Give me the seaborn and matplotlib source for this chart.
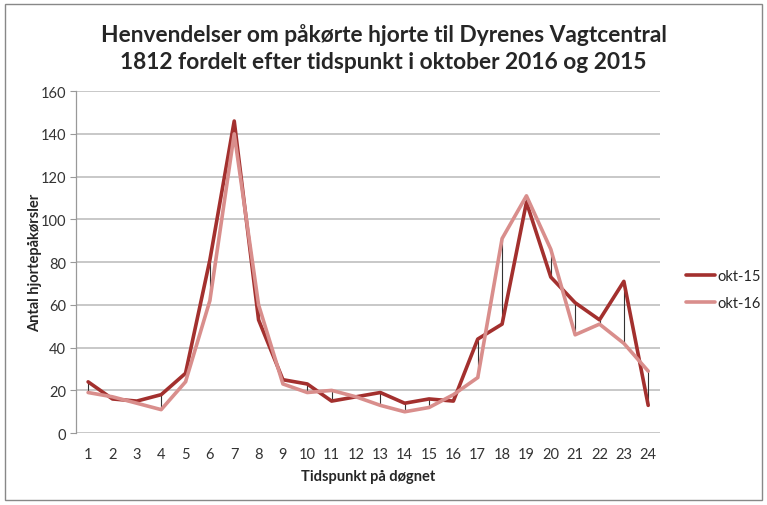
import matplotlib
matplotlib.use("Agg")
import matplotlib.pyplot as plt
import seaborn as sns
import pandas as pd
import numpy as np
from matplotlib.lines import Line2D

hours = list(range(1, 25))
okt15 = [24, 16, 15, 18, 28, 81, 146, 53, 25, 23, 15, 17, 19, 14, 16, 15, 44, 51, 108, 73, 61, 53, 71, 13]
okt16 = [19, 17, 14, 11, 24, 62, 140, 60, 23, 19, 20, 17, 13, 10, 12, 18, 26, 91, 111, 86, 46, 51, 42, 29]
series_names = ["okt-15", "okt-16"]
colors = ["#A3302E", "#D98E8C"]

df = pd.DataFrame({
    "hour": hours * 2,
    "value": okt15 + okt16,
    "series": [series_names[0]] * 24 + [series_names[1]] * 24,
})

sns.set_theme(style="white")
plt.rcParams['font.family'] = ['Lato', 'DejaVu Sans']

fig = plt.figure(figsize=(7.67, 5.06), dpi=100)
ax = fig.add_axes([0.099, 0.142, 0.762, 0.676])

# high-low lines
ax.vlines(hours, np.minimum(okt15, okt16), np.maximum(okt15, okt16),
          color="#333333", linewidth=0.8, zorder=2)

sns.lineplot(data=df, x="hour", y="value", hue="series", palette=colors,
             linewidth=2.6, ax=ax, legend=False, zorder=3)

ax.set_xlim(0.5, 24.5)
ax.set_ylim(0, 160)
ax.set_yticks(range(0, 161, 20))
ax.set_xticks(hours)
ax.tick_params(axis="both", labelsize=10.5, colors="#333333")
ax.tick_params(axis="y", length=4, width=0.8, color="#999999", left=True, direction="out", pad=3)
ax.tick_params(axis="x", length=0, pad=10)
ax.yaxis.grid(True, color="#BFBFBF", linewidth=1.2)
ax.set_axisbelow(True)
for s in ["top", "right", "bottom"]:
    ax.spines[s].set_visible(False)
ax.spines["left"].set_color("#999999")
ax.spines["left"].set_linewidth(0.9)

ax.set_xlabel("Tidspunkt på døgnet", fontsize=10.5, fontweight="bold", labelpad=6)
ax.set_ylabel("Antal hjortepåkørsler", fontsize=10.5, fontweight="bold", labelpad=-1)

fig.suptitle("Henvendelser om påkørte hjorte til Dyrenes Vagtcentral\n1812 fordelt efter tidspunkt i oktober 2016 og 2015",
             fontsize=16.4, fontweight="bold", y=0.953, x=0.5, linespacing=1.38)

handles = [Line2D([0], [0], color=c, linewidth=2.6) for c in colors]
leg = fig.legend(handles, series_names, loc="center left", bbox_to_anchor=(0.89, 0.426),
                 frameon=False, fontsize=10.5, handlelength=2.0, handletextpad=0.15,
                 labelspacing=0.9, borderpad=0.2, borderaxespad=0)

border = plt.Rectangle((0.006, 0.01), 0.988, 0.98, transform=fig.transFigure,
                       fill=False, edgecolor="#888888", linewidth=1, zorder=-1)
fig.patches.append(border)

fig.savefig("out.png", dpi=100)
